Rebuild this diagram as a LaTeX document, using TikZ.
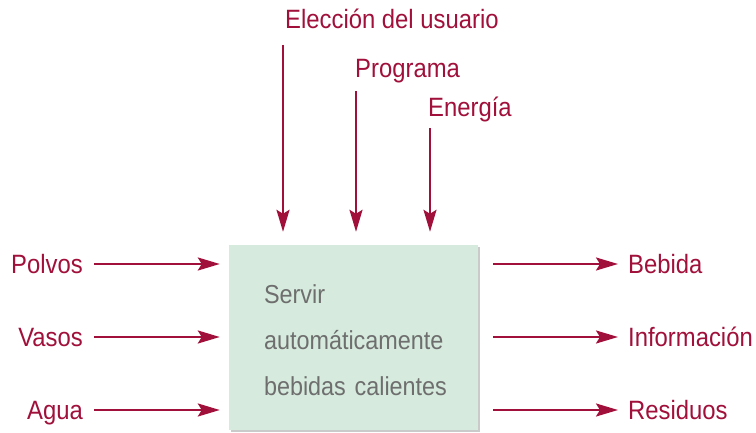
\documentclass[tikz,border=0pt]{standalone}
\usepackage{fontspec}
\setmainfont[FakeStretch=0.9]{Liberation Sans}
\usetikzlibrary{arrows.meta,shadows}
\definecolor{vino}{RGB}{160,16,58}
\definecolor{verdebox}{RGB}{214,235,221}
\definecolor{grisbox}{RGB}{110,110,110}
\tikzset{lbl/.style={text=vino,inner sep=0pt,text height=19pt,text depth=0pt,font=\fontsize{26.5}{30}\selectfont},
  toplbl/.style={text=vino,inner sep=0pt,font=\fontsize{26.5}{30}\selectfont},
  flow/.style={draw=vino,line width=2.2pt,-{Stealth[length=22pt,width=13pt,inset=4pt]}},
  proc/.style={fill=verdebox,minimum width=249pt,minimum height=185pt,inner sep=0pt,text=grisbox,align=left,text width=179pt,text height=24pt,text depth=92pt,font=\fontsize{26}{46}\selectfont,drop shadow={shadow xshift=2pt,shadow yshift=-2pt,fill=black!35,opacity=0.6}}}

\begin{document}
\begin{tikzpicture}[x=1pt,y=-1pt]
    \useasboundingbox (0,0) rectangle (756,433);

    \node[proc] (box) at (353.5,337.5) {\mbox{Servir}\\\mbox{automáticamente}\\\mbox{bebidas calientes}};

    \node[lbl,anchor=east] (polvos) at (83,264) {Polvos};
    \node[lbl,anchor=east] (vasos) at (83,337) {Vasos};
    \node[lbl,anchor=east] (agua) at (83,410) {Agua};
    \node[lbl,anchor=west] (bebida) at (628,264) {Bebida};
    \node[lbl,anchor=west] (info) at (628,337) {Información};
    \node[lbl,anchor=west] (residuos) at (628,410) {Residuos};
    \node[toplbl,anchor=base west] (eleccion) at (285,29) {Elección del usuario};
    \node[toplbl,anchor=base west] (programa) at (355,78) {Programa};
    \node[toplbl,anchor=base west] (energia) at (428,117) {Energía};

    \coordinate (eleccion-in) at ([shift={(-2,16)}]eleccion.base west);
    \coordinate (programa-in) at ([shift={(1,13)}]programa.base west);
    \coordinate (energia-in) at ([shift={(2,11)}]energia.base west);

    \draw [flow,shorten <=11pt,shorten >=9pt] (polvos.east) to (polvos.east -| box.west);
    \draw [flow,shorten <=11pt,shorten >=9pt] (vasos.east) to (vasos.east -| box.west);
    \draw [flow,shorten <=11pt,shorten >=9pt] (agua.east) to (agua.east -| box.west);
    \draw [flow,shorten <=15pt,shorten >=10pt] (bebida.west -| box.east) to (bebida.west);
    \draw [flow,shorten <=15pt,shorten >=10pt] (info.west -| box.east) to (info.west);
    \draw [flow,shorten <=15pt,shorten >=10pt] (residuos.west -| box.east) to (residuos.west);
    \draw [flow,shorten >=13pt] (eleccion-in) to (eleccion-in |- box.north);
    \draw [flow,shorten >=13pt] (programa-in) to (programa-in |- box.north);
    \draw [flow,shorten >=13pt] (energia-in) to (energia-in |- box.north);
\end{tikzpicture}
\end{document}
